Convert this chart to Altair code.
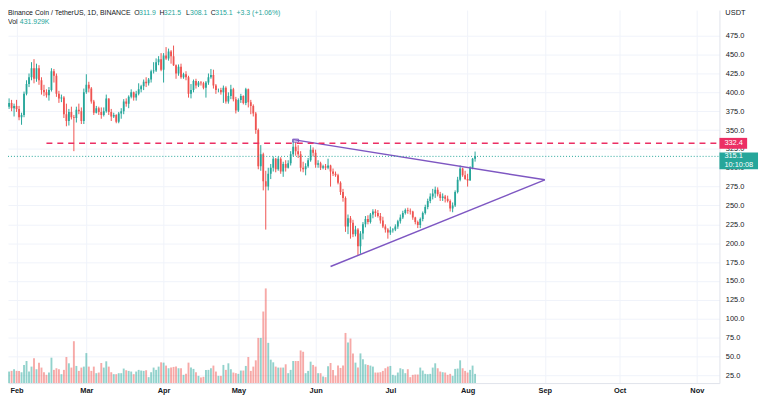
import altair as alt
import numpy as np
import pandas as pd

FONT = "Liberation Sans"
INK = "#131722"
UP = "#26a69a"
DOWN = "#ef5350"

# ---------------- data (BNB/USDT daily) ----------------
start_date = "2022-01-28"
first_open = 374.0

close = [381, 386, 379, 382,
         378, 367, 370, 398, 411, 420, 432, 418, 432, 416, 403, 400, 396, 403, 428, 422, 398, 392, 393, 371,
         362, 374, 367, 366, 377, 375, 362, 400,
         410, 405, 388, 373, 379, 374, 370, 375, 392, 374, 368, 370, 361, 372, 375, 388, 385, 394, 400, 393,
         398, 404, 408, 414, 412, 417, 428, 429, 440, 444, 430,
         449, 445, 454, 448, 436, 425, 434, 420, 424, 420, 398, 403, 415, 409, 413, 412, 406, 413, 420, 423,
         409, 403, 403, 400, 406, 388, 395, 404, 391, 376,
         390, 395, 386, 404, 387, 382, 372, 350, 302, 318, 282, 275, 292, 300, 312, 298, 312, 295, 305, 300,
         306, 318, 328, 322, 318, 300, 298, 302, 310, 324, 320,
         304, 306, 300, 302, 300, 303, 295, 292, 290, 280, 268, 260, 222, 233, 227, 212, 218, 196, 213, 225,
         232, 228, 238, 242, 240, 236, 230, 222, 218, 214,
         217, 218, 222, 229, 234, 240, 244, 243, 242, 234, 228, 224, 232, 240, 248, 256, 262, 266, 271, 265,
         260, 262, 259, 256, 246, 250, 268, 284, 299, 290, 285,
         283, 300, 311.8, 315.1]

high = [388, 392, 390, 385,
        390, 382, 373, 401, 416, 425, 440, 444, 438, 436, 420, 410, 404, 407, 432, 431, 425, 402, 397, 395,
        385, 378, 381, 370, 381, 385, 380, 405,
        424, 414, 407, 390, 382, 381, 380, 380, 397, 392, 378, 373, 371, 374, 379, 391, 392, 396, 404, 401,
        402, 412, 410, 417, 420, 419, 430, 440, 445, 448, 452,
        452, 460, 458, 456, 462, 437, 437, 438, 426, 428, 422, 411, 417, 418, 415, 415, 414, 415, 425, 431,
        430, 411, 405, 406, 409, 408, 400, 410, 406, 394,
        392, 398, 396, 406, 405, 390, 384, 374, 352, 330, 320, 296, 300, 305, 315, 313, 315, 314, 308, 310,
        310, 322, 337, 334, 330, 322, 308, 306, 313, 330, 327,
        324, 310, 308, 304, 305, 312, 304, 299, 295, 292, 282, 272, 262, 238, 236, 231, 223, 220, 216, 228,
        236, 237, 240, 245, 245, 244, 240, 235, 225, 220,
        222, 220, 225, 231, 238, 243, 246, 247, 246, 243, 235, 230, 234, 242, 251, 259, 266, 272, 275, 274,
        268, 266, 264, 263, 258, 254, 270, 288, 303, 300, 296,
        292, 302, 313, 321.5]

low = [369, 378, 375, 368,
       374, 363, 357, 367, 396, 407, 416, 412, 414, 410, 397, 395, 393, 389, 401, 413, 394, 386, 387, 366,
       355, 356, 364, 322, 360, 371, 358, 358,
       398, 400, 385, 370, 372, 370, 365, 368, 373, 370, 362, 366, 359, 359, 365, 371, 381, 379, 392, 389,
       389, 396, 400, 403, 407, 409, 413, 425, 427, 436, 428,
       413, 443, 442, 438, 435, 418, 422, 418, 418, 416, 393, 392, 400, 405, 407, 409, 404, 393, 410, 418,
       405, 398, 400, 397, 386, 385, 385, 391, 388, 372,
       374, 386, 384, 383, 380, 371, 368, 345, 298, 296, 270, 218, 270, 285, 295, 294, 296, 292, 288, 295,
       299, 303, 315, 316, 313, 295, 294, 290, 300, 308, 315,
       300, 300, 297, 298, 297, 298, 275, 289, 288, 278, 264, 255, 215, 212, 206, 208, 209, 183, 186, 205,
       221, 225, 226, 233, 235, 234, 226, 220, 214, 206,
       211, 214, 216, 219, 226, 232, 238, 239, 238, 231, 225, 220, 220, 229, 238, 245, 253, 258, 260, 262,
       256, 256, 254, 254, 242, 241, 248, 266, 282, 288, 284,
       275, 283, 298, 308.1]

# volume in thousands of BNB
volume_k = [773, 541, 572, 650, 572, 572, 510, 851, 1036, 541,
            773, 1160, 650, 959, 727, 510, 387, 495, 1191, 619,
            696, 650, 418, 619, 1222, 928, 727, 1964, 804, 572,
            727, 773, 1407, 773, 572, 773, 464, 495, 943, 727,
            1021, 773, 510, 418, 418, 464, 464, 681, 603, 572,
            541, 418, 541, 619, 588, 572, 603, 278, 510, 727,
            619, 773, 974, 959, 820, 696, 727, 758, 773, 696,
            696, 387, 433, 959, 727, 665, 510, 340, 263, 294,
            619, 619, 696, 820, 541, 340, 340, 851, 619, 928,
            650, 495, 464, 433, 588, 588, 804, 1222, 572, 773,
            1067, 2119, 2119, 3356, 4439, 1887, 1098, 974, 773, 727,
            727, 727, 882, 464, 619, 1036, 1036, 1036, 1531, 1469,
            464, 572, 1005, 851, 773, 464, 464, 309, 278, 789,
            943, 619, 356, 820, 711, 820, 2351, 1902, 2088, 1392,
            959, 727, 1392, 1114, 882, 851, 820, 773, 495, 495,
            510, 572, 696, 773, 804, 387,
            356, 495, 696, 650, 464, 650, 278, 387, 402, 402,
            727, 588, 433, 418, 433, 727, 928, 696, 541, 510,
            495, 387, 433, 340, 665, 681, 1067, 696, 572, 495,
            619, 820, 432]

# trend lines (date, price) and horizontal levels
upper_dates = ["2022-05-23", "2022-09-01"]
upper_prices = [337.3, 284.1]
lower_dates = ["2022-06-07", "2022-09-01"]
lower_prices = [169.1, 283.9]
resistance_start = "2022-02-13"
resistance_level = 332.4
last_price = 315.1

price_ticks = list(range(25, 476, 25))

# ---------------- tables ----------------
dates = pd.date_range(start_date, periods=len(close), freq="D")
opens = [first_open] + close[:-1]
df = pd.DataFrame({
    "date": dates.strftime("%Y-%m-%d"),
    "open": opens, "high": high, "low": low, "close": close, "vol": volume_k,
})
df["dir"] = np.where(df["close"] >= df["open"], "up", "down")

W, H = 719, 377

xscale = alt.Scale(type="utc", domain=[
    alt.DateTime(year=2022, month=1, date=30, hours=13, minutes=14, utc=True),
    alt.DateTime(year=2022, month=11, date=8, hours=1, minutes=40, utc=True)])
xaxis = alt.Axis(format="%b", tickCount="month", title=None, labelFont=FONT, labelFontSize=7.5,
                 labelColor=INK, labelFontWeight="bold", grid=True, gridColor="#f0f3fa",
                 domainColor="#e0e3eb", ticks=False, labelPadding=4, labelFlush=False,
                 labelOverlap=False)
X = alt.X("date:T", scale=xscale, axis=xaxis)

yscale = alt.Scale(domain=[14.5, 509.1], nice=False, zero=False)
yaxis = alt.Axis(orient="right", values=price_ticks, format=".1f", title=None, labelFont=FONT,
                 labelFontSize=7.5, labelColor=INK, grid=True, gridColor="#f0f3fa",
                 domainColor="#e0e3eb", ticks=False, labelPadding=6)

color = alt.Color("dir:N", scale=alt.Scale(domain=["up", "down"], range=[UP, DOWN]), legend=None)

base = alt.Chart(df)

volume = base.mark_bar(size=1.9, opacity=0.5, clip=True).encode(
    x=X,
    y=alt.Y("vol:Q", scale=alt.Scale(domain=[0, 17493], nice=False), axis=None),
    color=color,
)

wicks = base.mark_rule(strokeWidth=1, clip=True).encode(
    x=X, y=alt.Y("low:Q", scale=yscale, axis=yaxis), y2="high:Q", color=color)
bodies = base.mark_bar(size=1.8, clip=True).encode(
    x=X, y=alt.Y("open:Q", scale=yscale, axis=yaxis), y2="close:Q", color=color)

upper_df = pd.DataFrame({"date": upper_dates, "p": upper_prices})
upper = alt.Chart(upper_df).mark_line(
    color="#7e57c2", strokeWidth=1.5).encode(x=X, y=alt.Y("p:Q", scale=yscale, axis=yaxis))
lower = alt.Chart(pd.DataFrame({"date": lower_dates, "p": lower_prices})).mark_line(
    color="#7e57c2", strokeWidth=1.5).encode(x=X, y=alt.Y("p:Q", scale=yscale, axis=yaxis))
handle = alt.Chart(upper_df.head(1)).mark_point(
    shape="M-1,-0.5L1,-0.5L1,0.5L-1,0.5Z", filled=False, size=36, color="#7e57c2",
    strokeWidth=1, opacity=1).encode(x=X, y=alt.Y("p:Q", scale=yscale, axis=yaxis),
                                     xOffset=alt.value(2.5), yOffset=alt.value(1))

res_df = pd.DataFrame({"date": [resistance_start], "p": [resistance_level]})
resistance = alt.Chart(res_df).mark_rule(color="#ec2f64", strokeWidth=1.5, strokeDash=[6, 5]).encode(
    x=X, x2=alt.value(W), y=alt.Y("p:Q", scale=yscale, axis=yaxis))

last_df = pd.DataFrame({"p": [last_price]})
last_line = alt.Chart(last_df).mark_rule(color=UP, strokeWidth=1, strokeDash=[1, 2]).encode(
    x=alt.value(0), x2=alt.value(W), y=alt.Y("p:Q", scale=yscale, axis=yaxis))

red_box = alt.Chart(res_df).mark_point(
    shape="M-1,-0.393L1,-0.393L1,0.393L-1,0.393Z", filled=True, size=784, color="#ec2f64",
    opacity=1, strokeWidth=0).encode(x=alt.value(733), y=alt.Y("p:Q", scale=yscale, axis=yaxis))
red_txt = alt.Chart(res_df).mark_text(align="left", baseline="middle", font=FONT, fontSize=7.5,
                                      color="white").encode(
    x=alt.value(724), y=alt.Y("p:Q", scale=yscale, axis=yaxis), text=alt.Text("p:Q", format=".1f"))

green_box = alt.Chart(last_df).mark_point(
    shape="M-1,-0.436L1,-0.436L1,0.436L-1,0.436Z", filled=True, size=1521, color=UP,
    opacity=1, strokeWidth=0).encode(x=alt.value(738.5), y=alt.Y("p:Q", scale=yscale, axis=yaxis),
                                     yOffset=alt.value(4.6))
green_txt1 = alt.Chart(last_df).mark_text(align="left", baseline="middle", font=FONT, fontSize=7.5,
                                          color="white").encode(
    x=alt.value(724), y=alt.Y("p:Q", scale=yscale, axis=yaxis), text=alt.Text("p:Q", format=".1f"))
green_txt2 = alt.Chart(pd.DataFrame({"p": [last_price], "t": ["10:10:08"]})).mark_text(
    align="left", baseline="middle", font=FONT, fontSize=7.5, color="white").encode(
    x=alt.value(724), y=alt.Y("p:Q", scale=yscale, axis=yaxis), yOffset=alt.value(9), text="t:N")


def label(text, x, y, color=INK, size=7.0, weight="normal"):
    return alt.Chart(pd.DataFrame({"t": [text]})).mark_text(
        align="left", baseline="middle", font=FONT, fontSize=size, color=color, fontWeight=weight
    ).encode(x=alt.value(x), y=alt.value(y), text="t:N")


header = [
    label("Binance Coin / TetherUS, 1D, BINANCE", 0, 3),
    label("O", 127.5, 3), label("311.9", 132.5, 3, UP),
    label("H", 153, 3), label("321.5", 157.5, 3, UP),
    label("L", 180, 3), label("308.1", 184, 3, UP),
    label("C", 205, 3), label("315.1", 209.5, 3, UP),
    label("+3.3 (+1.06%)", 231, 3, UP),
    label("Vol", 0, 12), label("431.929K", 12, 12, UP),
    label("USDT", 725, 3, size=7.5),
]

price = alt.layer(wicks, bodies, upper, lower, handle, resistance, last_line,
                  red_box, red_txt, green_box, green_txt1, green_txt2, *header)

chart = alt.layer(volume, price).resolve_scale(y="independent").properties(
    width=W, height=H,
    autosize=alt.AutoSizeParams(type="none"),
    padding={"left": 0, "top": 0, "right": 41, "bottom": 14},
    background="white",
).configure_view(stroke=None)

chart.save("out.html", embed_options={"renderer": "svg", "actions": False})
